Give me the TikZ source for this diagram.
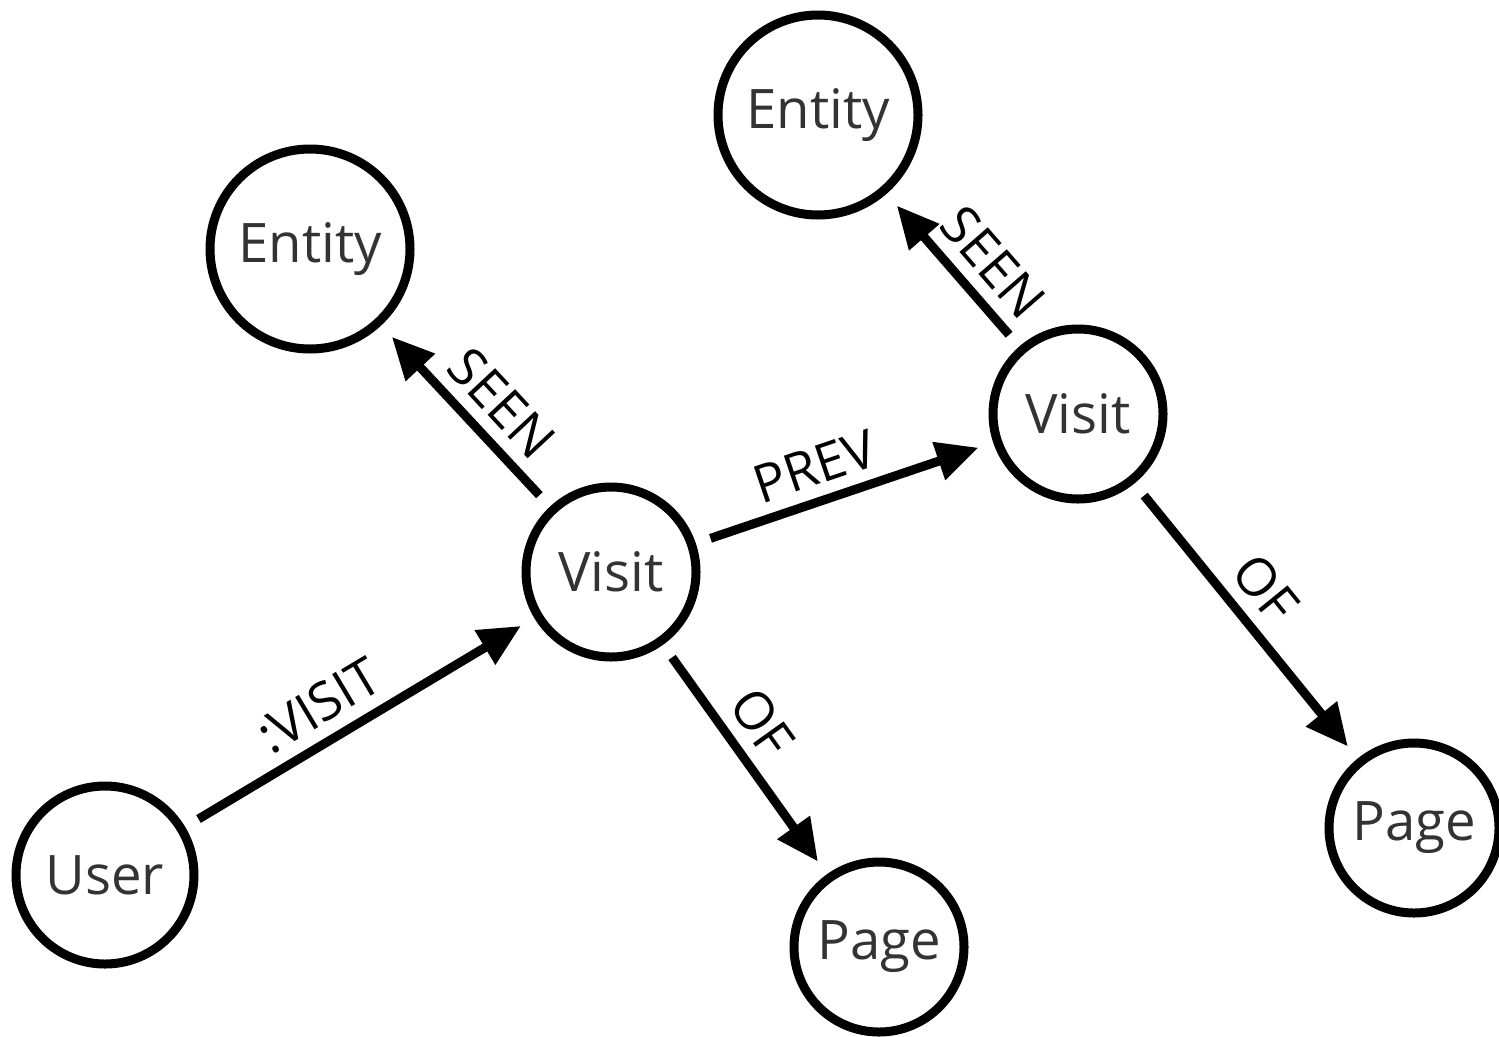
\documentclass[tikz,border=0pt]{standalone}
\usepackage{fontspec}
\setmainfont{Open Sans}
\usetikzlibrary{arrows.meta}
\definecolor{nodegray}{HTML}{333333}

\tikzstyle{thing} = [circle, draw, line width=0.09cm, inner sep=0pt, outer sep=0.2cm, text=nodegray, font=\fontsize{15.5}{18}\selectfont]
\tikzstyle{big} = [thing, minimum size=2cm]
\tikzstyle{small} = [thing, minimum size=1.7cm]
\tikzstyle{link} = [line width=0.09cm, -{Triangle[length=0.42cm, width=0.38cm]}]
\tikzstyle{rel} = [sloped, above, pos=0.43, font=\fontsize{15}{17}\selectfont]

\begin{document}
\begin{tikzpicture}
\useasboundingbox (0,0) rectangle (14.99,-10.36);

\node[thing, minimum size=1.78cm] (user) at (1.05,-8.75) {User};
\node[small] (visitA) at (6.11,-5.72) {Visit};
\node[small] (visitB) at (10.78,-4.14) {Visit};
\node[big] (entityA) at (3.10,-2.49) {Entity};
\node[big] (entityB) at (8.18,-1.15) {Entity};
\node[small] (pageA) at (8.79,-9.47) {Page};
\node[small] (pageB) at (14.14,-8.28) {Page};

\draw[link] (user) -- node[rel] {:VISIT} (visitA);
\draw[link] (visitA) -- node[rel] {PREV} (visitB);
\draw[link] (visitA) -- node[rel] {SEEN} (entityA);
\draw[link] (visitB) -- node[rel, pos=0.38] {SEEN} (entityB);
\draw[link] (visitA) -- node[rel, pos=0.42] {OF} (pageA);
\draw[link] (visitB) -- node[rel, pos=0.46] {OF} (pageB);
\end{tikzpicture}
\end{document}
